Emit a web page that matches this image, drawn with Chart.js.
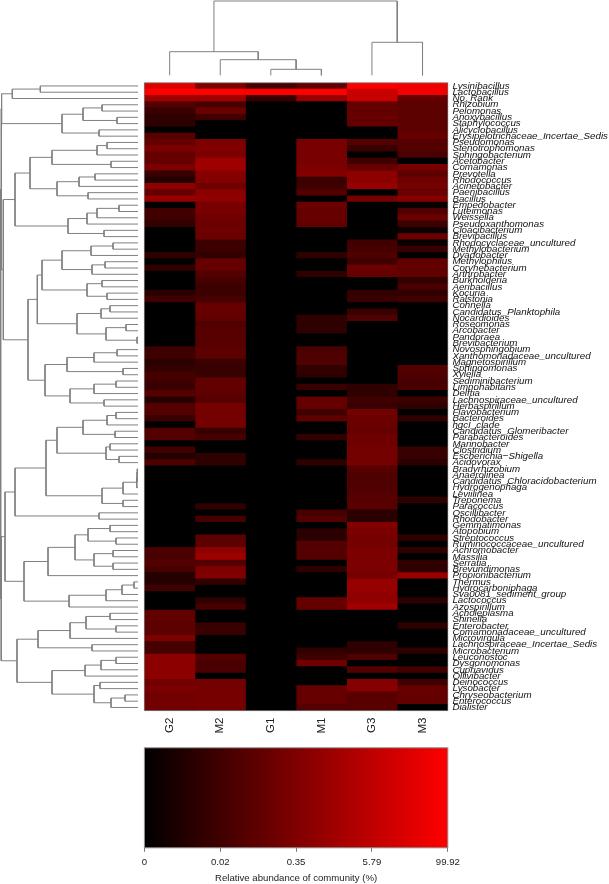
<!DOCTYPE html>
<html><head><meta charset="utf-8">
<style>html,body{margin:0;padding:0;background:#fff}canvas{position:absolute;left:0;top:0}</style>
<script src="https://cdn.jsdelivr.net/npm/chart.js@4"></script>
</head><body>
<canvas id="heat" width="609" height="884"></canvas>
<canvas id="left" width="609" height="884"></canvas>
<canvas id="top" width="609" height="884"></canvas>
<canvas id="bar" width="609" height="884"></canvas>
<script>
const genera = ["Lysinibacillus","Lactobacillus","No_Rank","Rhizobium","Pelomonas","Anoxybacillus","Staphylococcus","Alicyclobacillus","Erysipelotrichaceae_Incertae_Sedis","Pseudomonas","Stenotrophomonas","Sphingobacterium","Acetobacter","Comamonas","Prevotella","Rhodococcus","Acinetobacter","Paenibacillus","Bacillus","Empedobacter","Luteimonas","Weissella","Pseudoxanthomonas","Cloacibacterium","Brevibacillus","Rhodocyclaceae_uncultured","Methylobacterium","Dyadobacter","Methylophilus","Corynebacterium","Arthrobacter","Burkholderia","Aeribacillus","Kocuria","Ralstonia","Cohnella","Candidatus_Planktophila","Nocardioides","Roseomonas","Arcobacter","Pandoraea","Brevibacterium","Novosphingobium","Xanthomonadaceae_uncultured","Magnetospirillum","Sphingomonas","Xylella","Sediminibacterium","Limnohabitans","Delftia","Lachnospiraceae_uncultured","Herbaspirillum","Flavobacterium","Bacteroides","hgcI_clade","Candidatus_Glomeribacter","Parabacteroides","Marinobacter","Clostridium","Escherichia\u2212Shigella","Acidovorax","Bradyrhizobium","Anaerolinea","Candidatus_Chloracidobacterium","Hydrogenophaga","Leviilinea","Treponema","Paracoccus","Oscillibacter","Rhodobacter","Gemmatimonas","Atopobium","Streptococcus","Ruminococcaceae_uncultured","Achromobacter","Massilia","Serratia","Brevundimonas","Propionibacterium","Thermus","Hydrocarboniphaga","Sva0081_sediment_group","Lactococcus","Azospirillum","Acholeplasma","Shinella","Enterobacter","Comamonadaceae_uncultured","Microvirgula","Lachnospiraceae_Incertae_Sedis","Microbacterium","Leuconostoc","Dysgonomonas","Cupriavidus","Ollivibacter","Deinococcus","Lysobacter","Chryseobacterium","Enterococcus","Dialister"];
const samples = ["G2","M2","G1","M1","G3","M3"];
// colour level (0 = black, 255 = full red) of each genus in each sample
const levelG2 = [220,255,160,84,56,46,46,0,88,102, 125,102,102,125,56,37,144,102,152,0, 65,65,51,0,0,0,0,46,0,46, 0,0,0,42,65,0,0,0,0,0, 0,0,60,65,42,51,70,65,56,88, 37,84,84,56,0,84,84,0,65,37, 79,0,0,0,0,0,0,0,0,0, 0,0,0,0,74,74,84,70,37,37, 65,0,0,0,98,98,93,93,125,70, 70,140,140,140,140,115,125,115,115,115];
const levelM2 = [125,255,160,70,107,65,0,0,0,125, 130,125,158,158,135,130,112,140,144,120, 120,112,107,112,107,60,60,51,102,102, 84,70,60,60,70,102,102,98,79,88, 88,88,93,93,60,56,56,98,98,93, 88,116,116,116,116,56,70,0,0,46, 46,0,0,0,0,0,0,46,0,70, 0,0,93,93,140,158,84,125,130,51, 0,0,46,70,0,0,56,56,0,0, 0,84,74,74,0,116,116,116,116,116];
const levelG1 = [70,255,56,0,0,0,0,0,0,0, 0,0,0,0,0,0,0,0,0,0, 0,0,0,0,0,0,0,0,0,0, 0,0,0,0,0,0,0,0,0,0, 0,0,0,0,0,0,0,0,0,0, 0,0,0,0,0,0,0,0,0,0, 0,0,0,0,0,0,0,0,0,0, 0,0,0,0,0,0,0,0,0,0, 0,0,0,0,0,0,0,0,0,0, 0,0,0,0,0,0,0,0,0,0];
const levelM1 = [95,255,155,0,0,0,0,0,0,120, 120,120,120,125,130,56,65,84,0,107, 102,102,98,0,0,0,0,46,0,0, 46,0,0,0,0,0,0,46,46,46, 0,0,74,79,79,51,46,0,56,0, 102,102,65,93,0,0,51,0,0,0, 46,0,0,0,0,0,0,0,70,84, 0,42,42,84,84,84,0,46,0,0, 0,0,102,102,0,0,0,0,0,0, 46,65,112,0,0,0,102,102,102,84];
const levelG3 = [250,200,200,102,98,102,102,0,0,84, 56,0,65,102,140,140,150,0,116,0, 0,0,0,0,0,65,70,79,65,107, 102,0,0,51,56,0,56,79,0,0, 0,0,0,0,0,0,0,0,46,46, 65,56,116,107,107,102,112,112,116,116, 116,88,79,79,79,84,88,88,42,42, 130,125,116,116,125,125,125,125,120,150, 150,144,144,162,0,0,0,0,0,46, 46,79,0,84,0,135,135,88,88,88];
const levelM3 = [240,240,102,93,93,93,93,93,102,84, 84,74,0,120,93,112,116,107,135,9, 79,107,60,14,107,9,56,0,98,98, 98,51,74,46,65,0,0,0,0,0, 0,0,0,0,0,84,79,74,74,0, 60,46,0,46,0,0,0,0,56,56, 42,0,0,0,0,0,46,0,0,0, 0,0,46,0,46,0,46,46,155,0, 0,0,42,0,0,0,46,0,0,0, 46,0,0,65,0,65,102,102,98,0];
const sampleLevels = [levelG2,levelM2,levelG1,levelM1,levelG3,levelM3];
// dendrograms: [merge depth, child, child]; 0 is a leaf
const rowTree = [0.7,
  [1.2,
    [1.6,[12.3,[40.3,0,0],0],[62,[83,[102,0,0],[117,0,0]],[99,0,0]]],
    [3.3,
      [15,[30,[52,[97,[107,0,0],0],[111,0,0]],[57,[79,[95,0,0],0],[88,0,0]]],[68,[87,[97,[119,0,0],0],0],[104,0,0]]],
      [28,
        [37.3,[42,[62,[91,[113,0,0],0],[92,[105,0,0],0]],[87,[102,0,0],[107,0,0]]],[77,[101,[110,0,0],0],[106,[126,0,0],[137,0,0]]]],
        [45,[67,[94,[117,0,0],0],[123,0,0]],[70,[94,[116,0,0],0],[104,0,0]]]
      ]
    ]
  ],
  [1.2,
    [5,
      [15,
        [46,[57,[83,[107,[116,0,0],0],[115,0,0]],[106,[110,0,0],[119,0,0]]],[102,[123,[136.8,[137,[137.3,0,0],0],0],0],[123,0,0]]],
        [99,0,0]
      ],
      [24,[48,[75,[88,[110,0,0],[116,0,0]],[94,[113,0,0],[113,0,0]]],0],[69,[106,[122,[134,0,0],0],0],0]]
    ],
    [17,[38,[70,[86,[110,0,0],[116,0,0]],0],[92,0,0]],[52,[85,[101,[116,0,0],0],0],[94,[100,0,0],[111,[125,0,0],0]]]]
  ]
];
const rowLeafDepth = 138;
const colTree = [1,[51.7,0,[59.7,0,[69.3,0,0]]],[42.3,0,0]];
const colLeafDepth = 75.3;
const scaleTicks = ["0","0.02","0.35","5.79","99.92"];
const scaleTitle = "Relative abundance of community (%)";

const FONT = '"Liberation Sans", Arial, sans-serif';
Chart.defaults.animation = false;
Chart.defaults.responsive = false;
Chart.defaults.devicePixelRatio = 1;
Chart.defaults.plugins.legend.display = false;
Chart.defaults.plugins.tooltip.enabled = false;

const AREA = {left:144.4, right:447.8, top:82.8, bottom:710.6, W:609, H:884};

function segments(tree, leafDepth){
  const out = []; let leaf = 0;
  function walk(n){
    if (n === 0) return {pos: leaf++ + 0.5, depth: leafDepth};
    const a = walk(n[1]), b = walk(n[2]), d = n[0];
    out.push({d:a.depth,p:a.pos},{d:d,p:a.pos},{d:d,p:b.pos},{d:b.depth,p:b.pos},{d:NaN,p:NaN});
    return {pos:(a.pos+b.pos)/2, depth:d};
  }
  walk(tree);
  return out;
}
const frame = color => ({id:'frame',afterDraw(c){
  const a=c.chartArea,x=c.ctx;x.save();x.strokeStyle=color;x.lineWidth=1;
  x.strokeRect(a.left,a.top,a.right-a.left,a.bottom-a.top);x.restore();}});
const blackBase = {id:'blackBase',beforeDatasetsDraw(c){
  const a=c.chartArea,x=c.ctx;x.save();x.fillStyle='#000';
  x.fillRect(a.left,a.top,a.right-a.left,a.bottom-a.top);x.restore();}};

// heat map
new Chart(document.getElementById('heat'),{
  type:'bar',
  data:{labels:genera,datasets:sampleLevels.map((lv,i)=>({
    label:samples[i],
    data:lv.map(()=>1),
    backgroundColor:lv.map(v=>`rgb(${v},0,0)`),
    borderWidth:0,categoryPercentage:1,barPercentage:1,inflateAmount:0.3
  }))},
  options:{indexAxis:'y',
    layout:{padding:{left:AREA.left,top:AREA.top,right:0,bottom:AREA.H-AREA.bottom-30}},
    scales:{
      x:{type:'linear',stacked:true,min:0,max:6,
        afterBuildTicks(s){s.ticks=samples.map((_,i)=>({value:i+0.5}));},
        afterFit(s){s.height=30;},
        grid:{display:false,drawTicks:false},border:{display:false},
        ticks:{autoSkip:false,minRotation:90,maxRotation:90,padding:7,color:'#222',
          font:{family:FONT,size:11.5},callback:v=>samples[Math.floor(v)]}},
      y:{type:'category',stacked:true,position:'right',
        afterFit(s){s.width=AREA.W-AREA.right;},
        grid:{display:false,drawTicks:false},border:{display:false},
        ticks:{autoSkip:false,padding:4.6,color:'#111',
          font:{family:FONT,size:9.75,style:'italic'}}}
    }},
  plugins:[blackBase,frame('rgba(130,130,130,0.6)')]
});

function dendro(id,pts,opts){
  return new Chart(document.getElementById(id),{type:'scatter',
    data:{datasets:[{data:pts,showLine:true,borderColor:'#808080',borderWidth:1,pointRadius:0,tension:0,spanGaps:false,clip:false}]},
    options:opts});
}
dendro('left',segments(rowTree,rowLeafDepth).map(s=>({x:s.d,y:s.p})),{
  layout:{padding:{left:0,right:AREA.W-rowLeafDepth,top:AREA.top,bottom:AREA.H-AREA.bottom}},
  scales:{x:{type:'linear',display:false,min:0,max:rowLeafDepth},
          y:{type:'linear',display:false,reverse:true,min:0,max:genera.length}}});
dendro('top',segments(colTree,colLeafDepth).map(s=>({x:s.p,y:s.d})),{
  layout:{padding:{left:AREA.left,right:AREA.W-AREA.right,top:0,bottom:AREA.H-colLeafDepth}},
  scales:{x:{type:'linear',display:false,min:0,max:samples.length},
          y:{type:'linear',display:false,reverse:true,min:0,max:colLeafDepth}}});

// colour key
new Chart(document.getElementById('bar'),{
  type:'bar',
  data:{labels:[scaleTitle],datasets:[{
    data:[[0,scaleTicks.length-1]],
    backgroundColor(ctx){
      const a=ctx.chart.chartArea; if(!a) return '#000';
      const g=ctx.chart.ctx.createLinearGradient(a.left,0,a.right,0);
      g.addColorStop(0,'#000');g.addColorStop(1,'#f00');return g;},
    borderWidth:0,categoryPercentage:1,barPercentage:1}]},
  options:{indexAxis:'y',
    layout:{padding:{left:AREA.left,right:AREA.W-AREA.right,top:747.8,bottom:0}},
    scales:{
      x:{type:'linear',min:0,max:scaleTicks.length-1,
        afterBuildTicks(s){s.ticks=scaleTicks.map((_,i)=>({value:i}));},
        afterFit(s){s.height=36.2;},
        grid:{display:true,drawOnChartArea:false,drawTicks:true,tickLength:4,color:'#777'},
        border:{display:false},
        ticks:{autoSkip:false,maxRotation:0,padding:5,color:'#222',font:{family:FONT,size:9.6},callback:v=>scaleTicks[v]},
        title:{display:true,text:scaleTitle,color:'#222',font:{family:FONT,size:9.6},padding:{top:0,bottom:0}}},
      y:{type:'category',display:false}
    }},
  plugins:[frame('#888')]
});
</script>
</body></html>
